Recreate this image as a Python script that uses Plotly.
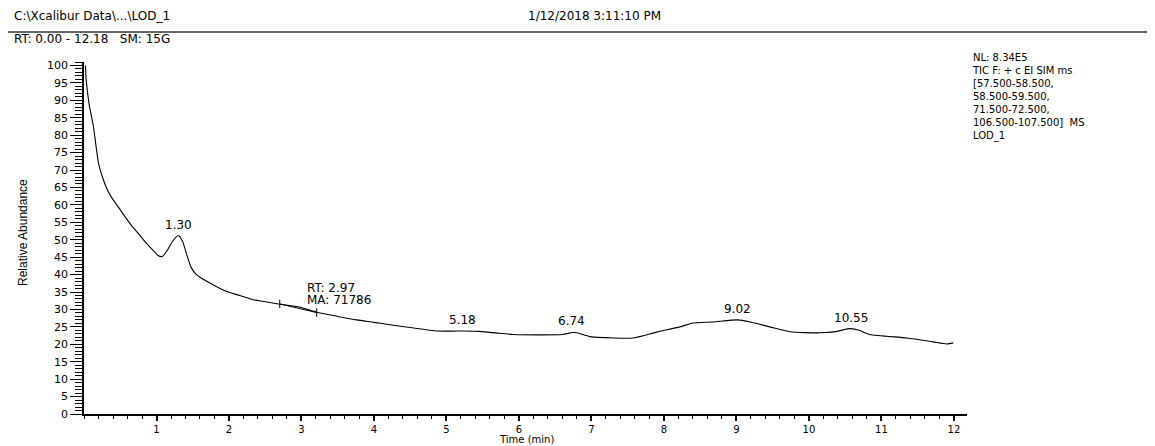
import plotly.graph_objects as go

# ---- data ----
time_min = [0.02, 0.03, 0.07, 0.13, 0.20, 0.27, 0.33, 0.40, 0.47, 0.57, 0.67, 0.77, 0.86, 0.95,
            1.02, 1.08, 1.15, 1.22, 1.30, 1.36, 1.42, 1.48, 1.55, 1.70, 1.96, 2.15, 2.33, 2.50,
            2.70, 2.97, 3.21, 3.50, 3.76, 4.00, 4.22, 4.50, 4.87, 5.18, 5.46, 5.70, 5.92, 6.30,
            6.60, 6.74, 6.80, 6.98, 7.30, 7.57, 7.90, 8.22, 8.40, 8.67, 9.02, 9.19, 9.46, 9.74,
            10.15, 10.39, 10.55, 10.68, 10.84, 11.35, 11.71, 11.90, 11.99]
rel_abundance = [100.0, 96.0, 89.0, 82.5, 72.0, 67.0, 64.0, 61.5, 59.5, 56.5, 53.7, 51.3, 49.0, 47.0,
                 45.5, 45.2, 47.0, 49.5, 51.2, 49.5, 45.5, 42.0, 40.0, 38.0, 35.2, 34.0, 32.8, 32.2,
                 31.5, 30.7, 29.2, 28.0, 27.0, 26.3, 25.6, 24.8, 23.8, 23.8, 23.7, 23.2, 22.8, 22.7,
                 22.8, 23.4, 23.3, 22.2, 21.8, 21.8, 23.5, 25.0, 26.1, 26.4, 27.0, 26.4, 25.0, 23.6,
                 23.3, 23.7, 24.5, 24.1, 22.8, 21.8, 20.7, 20.1, 20.4]

baseline_t = [2.70, 3.21]
baseline_y = [31.6, 29.1]

peak_labels = ["1.30", "5.18", "6.74", "9.02", "10.55"]
peak_x = [1.30, 5.22, 6.73, 9.02, 10.58]
peak_y = [51.2, 23.8, 23.4, 27.0, 24.5]

x_ticks = list(range(1, 13))
y_ticks = list(range(0, 101, 5))

header_left = "C:\\Xcalibur Data\\...\\LOD_1"
header_date = "1/12/2018 3:11:10 PM"
range_text = "RT: 0.00 - 12.18   SM: 15G"
info_lines = ["NL: 8.34E5", "TIC F: + c EI SIM ms", "[57.500-58.500,", "58.500-59.500,",
              "71.500-72.500,", "106.500-107.500]  MS", "LOD_1"]

FONT = "DejaVu Sans"
OFF = 8                      # page body margin
W, H = 1155 - OFF, 446 - OFF
L, R, T, B = 84 - OFF, 188, 62 - OFF, 32
PW, PH = W - L - R, H - T - B


def fx(x):
    """page x pixel -> paper"""
    return (x - OFF - L) / PW


def fy(y):
    """page y pixel -> paper"""
    return (H - B - (y - OFF)) / PH


def txt(text, x, y, xanchor="left", size=12, family=FONT, **kw):
    return dict(x=fx(x), y=fy(y), xref="paper", yref="paper", text=text, showarrow=False,
                xanchor=xanchor, yanchor="middle",
                font=dict(family=family, size=size, color="black"), **kw)


fig = go.Figure()
fig.add_trace(go.Scatter(x=time_min, y=rel_abundance, mode="lines",
                         line=dict(color="black", width=1.1, shape="spline", smoothing=0.6),
                         hoverinfo="skip", showlegend=False))
fig.add_trace(go.Scatter(x=baseline_t, y=baseline_y, mode="lines+markers",
                         line=dict(color="black", width=1),
                         marker=dict(symbol="line-ns", size=6, line=dict(color="black", width=1)),
                         hoverinfo="skip", showlegend=False))

ann = []
for label, x, y in zip(peak_labels, peak_x, peak_y):
    ann.append(dict(x=x, y=y, xref="x", yref="y", text=label, showarrow=False,
                    xanchor="center", yanchor="bottom", yshift=2,
                    font=dict(family=FONT, size=12, color="black")))
ann.append(txt("RT: 2.97", 305, 288))
ann.append(txt("MA: 71786", 305, 300))
ann.append(txt(header_left, 12, 16))
ann.append(txt(header_date, 594, 16, xanchor="center"))
ann.append(txt(range_text, 12, 39))
ann.append(dict(x=fx(970), y=fy(50), xref="paper", yref="paper", text="<br>".join(info_lines),
                showarrow=False, xanchor="left", yanchor="top", align="left",
                font=dict(family=FONT, size=10, color="black")))
ann.append(txt("Relative Abundance", 23, 233, xanchor="center", size=12,
               family="Liberation Sans", textangle=-90))
ann.append(txt("Time (min)", 526, 439, xanchor="center", size=10))

fig.update_layout(
    width=W, height=H,
    margin=dict(l=L, r=R, t=T, b=B, pad=0),
    paper_bgcolor="white", plot_bgcolor="white",
    annotations=ann,
    shapes=[dict(type="line", xref="paper", yref="paper", x0=fx(OFF), x1=fx(1155),
                 y0=fy(32), y1=fy(32), line=dict(color="#333", width=1.5))],
    xaxis=dict(range=[0, 12.18], showgrid=False, zeroline=False, showline=True,
               linecolor="black", linewidth=1.5, ticks="outside", ticklen=5, tickwidth=1.5,
               tickcolor="black", tickvals=x_ticks,
               minor=dict(dtick=0.2, ticks="outside", ticklen=3, tickcolor="black", tickwidth=1),
               tickfont=dict(family=FONT, size=10, color="black")),
    yaxis=dict(range=[0, 101], showgrid=False, zeroline=False, showline=True,
               linecolor="black", linewidth=1.5, ticks="outside", ticklen=12, tickwidth=1,
               tickcolor="black", tickvals=y_ticks,
               minor=dict(dtick=1, ticks="outside", ticklen=7, tickcolor="black", tickwidth=1),
               tickfont=dict(family=FONT, size=11, color="black")),
)

fig.write_html("out.html")
